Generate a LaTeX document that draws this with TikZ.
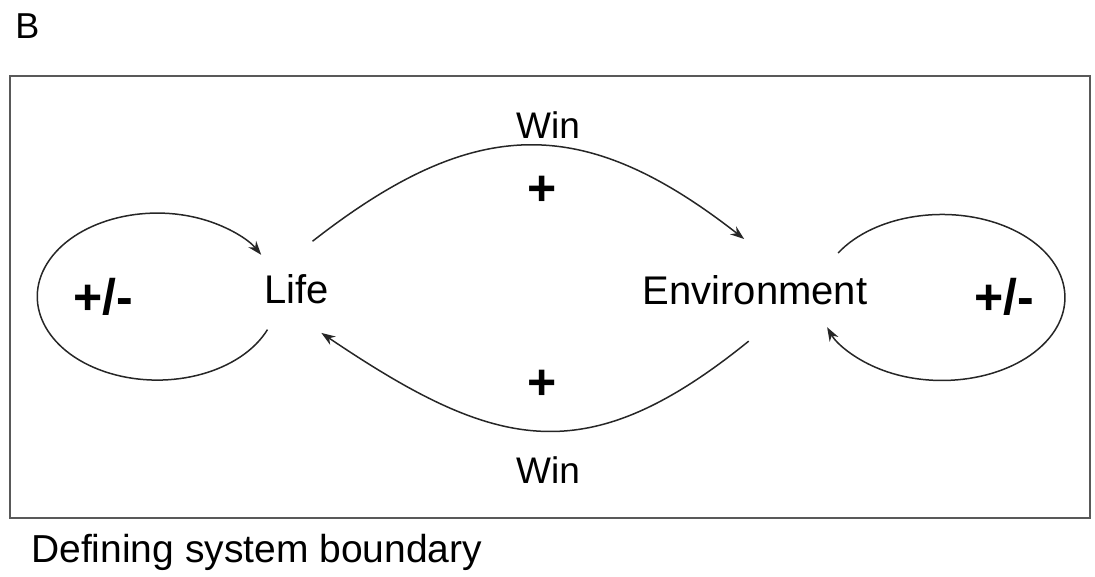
\documentclass[tikz,border=0pt]{standalone}
\usepackage{fontspec}
\setmainfont{Liberation Sans}
\usetikzlibrary{arrows.meta, shapes.geometric, positioning}

\begin{document}
\begin{tikzpicture}[x=1pt, y=1pt,
  term/.style={inner sep=0pt, font=\fontsize{40}{44}\selectfont, text height=28.8pt, text depth=0pt},
  win/.style={inner sep=0pt, font=\fontsize{37}{40}\selectfont, text height=26.6pt, text depth=0pt},
  sign/.style={inner sep=0pt, font=\fontsize{50}{54}\selectfont\bfseries, text height=35pt, text depth=0pt},
  link/.style={draw=black!85, line width=1.5pt, -{Stealth[length=14pt, width=10pt]}}
]
  \useasboundingbox (0,0) rectangle (1095,576);

  \node[inner sep=0pt, font=\fontsize{36}{40}\selectfont, text height=25.9pt, text depth=0pt] (panel) at (27.5,550) {B};
  \node[draw=black!65, line width=1.8pt, minimum width=1080pt, minimum height=442pt] (boundary) at (550,279) {};
  \node[inner sep=0pt, anchor=base west, font=\fontsize{39}{42}\selectfont] (caption) at (31,14) {Defining system boundary};

  \node[term, circle, minimum size=100pt] (life) at (297,287) {Life};
  \node[term, ellipse, inner xsep=-30pt, minimum width=240pt, minimum height=102pt] (env) at (755,286) {Environment};

  \node[win] (wintop) at (548,451) {Win};
  \node[win] (winbot) at (548,106) {Win};
  \node[sign] (plustop) at (542,388) {+};
  \node[sign] (plusbot) at (542,194) {+};
  \node[sign] (pmleft) at (103,279) {+/-};
  \node[sign] (pmright) at (1004,279) {+/-};

  % links between life and environment
  \draw[link] (life.72) .. controls +(38:205) and +(142:205) .. (env.102);
  \draw[link] (env.-97) .. controls +(219:210) and +(-34:210) .. (life.-61);

  % self loops
  \draw[link] (life.-126) arc[start angle=-23.3, end angle=-330, x radius=120, y radius=83.5];
  \draw[link] (env.24) arc[start angle=147.6, end angle=-159, x radius=123, y radius=83];
\end{tikzpicture}
\end{document}
